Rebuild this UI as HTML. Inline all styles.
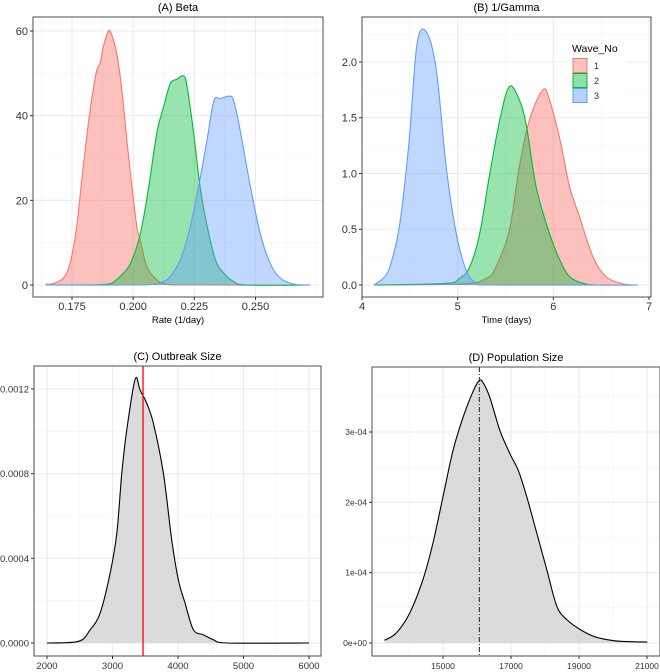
<!DOCTYPE html>
<html><head><meta charset="utf-8"><style>
html,body{margin:0;padding:0;background:#fff}
svg{display:block;font-family:"Liberation Sans",Arial,sans-serif}
</style></head><body>
<svg id="fig" width="660" height="672" viewBox="0 0 660 672"></svg>
<script>
// ---------- Data ----------
const waveLabels = ["1","2","3"];
const waveColors = ["#F8766D","#00BA38","#619CFF"];
// Panel A: Beta
const betaX1 = [0.1643,0.1671,0.1714,0.1742,0.1769,0.1796,0.1824,0.1850,0.1865,0.1878,0.1899,0.1913,0.1933,0.1954,0.1974,0.1995,0.2015,0.2029,0.2056,0.2097,0.2138,0.2200,0.2725];
const betaY1 = [0.2,0.3,1.6,5.1,13.8,28,41.3,50.4,52.4,56.3,60,59,54.6,46,34.3,23.2,13.8,10.6,4.3,1.2,0.2,0,0];
const betaX2 = [0.1643,0.1850,0.1906,0.1925,0.1947,0.1988,0.2029,0.2063,0.2097,0.2124,0.2152,0.2179,0.2206,0.2220,0.2247,0.2274,0.2302,0.2336,0.2370,0.2411,0.2466,0.2725];
const betaY2 = [0,0.05,0.3,0.9,2,5,12,23,36,42,47.6,48.6,49.4,47,36,23,14,6,2.8,0.8,0,0];
const betaX3 = [0.1643,0.2000,0.2070,0.2105,0.2130,0.2152,0.2193,0.2234,0.2275,0.2302,0.2330,0.2357,0.2391,0.2411,0.2439,0.2480,0.2520,0.2561,0.2602,0.2657,0.2725];
const betaY3 = [0,0,0.1,0.4,1.0,2,6,14,25.6,34.3,43.5,44,44.6,43.5,36,23,12,5,1.6,0.2,0];
// Panel B: 1/Gamma
const gamX1 = [4.125,5.06,5.30,5.40,5.54,5.645,5.75,5.89,5.96,6.07,6.17,6.275,6.415,6.55,6.73,6.885];
const gamY1 = [0,0.01,0.06,0.16,0.49,1.06,1.48,1.75,1.66,1.30,0.88,0.61,0.25,0.075,0.01,0];
const gamX2 = [4.125,4.88,5.02,5.125,5.23,5.33,5.44,5.54,5.645,5.72,5.82,5.96,6.07,6.17,6.31,6.45,6.885];
const gamY2 = [0,0.015,0.06,0.16,0.46,0.97,1.48,1.78,1.66,1.42,0.88,0.46,0.22,0.075,0.015,0,0];
const gamX3 = [4.125,4.22,4.29,4.39,4.49,4.575,4.672,4.777,4.88,4.986,5.09,5.195,5.30,6.885];
const gamY3 = [0,0.06,0.16,0.52,1.27,2.16,2.27,1.93,1.06,0.46,0.13,0.015,0,0];
// Panel C: Outbreak size
const outX = [2000,2482,2660,2812,2964,3066,3142,3218,3345,3421,3523,3624,3777,3904,4005,4107,4234,4386,4538,4741,6000];
const outY = [0,0.0000079,0.000063,0.000142,0.00033,0.000519,0.000802,0.001007,0.001246,0.001195,0.001132,0.001038,0.000802,0.000488,0.000299,0.000189,0.000063,0.000039,0.0000157,0,0];
const outMarker = [3466];
// Panel D: Population size
const popX = [13276,13621,14015,14409,14704,15000,15296,15591,15887,16064,16182,16379,16675,16970,17217,17463,17759,18054,18350,18645,19039,19433,19828,20222,21010];
const popY = [0.038e-4,0.14e-4,0.42e-4,0.9e-4,1.42e-4,2.08e-4,2.74e-4,3.21e-4,3.58e-4,3.73e-4,3.70e-4,3.49e-4,3.02e-4,2.69e-4,2.45e-4,2.08e-4,1.56e-4,1.04e-4,0.52e-4,0.33e-4,0.19e-4,0.094e-4,0.047e-4,0.024e-4,0.014e-4];
const popMarker = [16070];
// Ticks
const aXTicks = [0.175,0.200,0.225,0.250], aXLabels = ["0.175","0.200","0.225","0.250"];
const aYTicks = [0,20,40,60], aYLabels = ["0","20","40","60"];
const bXTicks = [4,5,6,7], bXLabels = ["4","5","6","7"];
const bYTicks = [0,0.5,1,1.5,2], bYLabels = ["0.0","0.5","1.0","1.5","2.0"];
const cXTicks = [2000,3000,4000,5000,6000], cXLabels = ["2000","3000","4000","5000","6000"];
const cYTicks = [0,0.0004,0.0008,0.0012], cYLabels = ["0.0000","0.0004","0.0008","0.0012"];
const dXTicks = [15000,17000,19000,21000], dXLabels = ["15000","17000","19000","21000"];
const dYTicks = [0,1e-4,2e-4,3e-4], dYLabels = ["0e+00","1e-04","2e-04","3e-04"];

// ---------- Helpers ----------
const NS = "http://www.w3.org/2000/svg";
const svg = document.getElementById("fig");
function mk(tag, attrs, parent){ const e=document.createElementNS(NS,tag); for(const k in attrs) e.setAttribute(k,attrs[k]); (parent||svg).appendChild(e); return e; }
function lin(d0,d1,r0,r1){ return v => r0 + (v-d0)/(d1-d0)*(r1-r0); }
function smoothPath(pts){
  let d = "M"+pts[0][0].toFixed(2)+","+pts[0][1].toFixed(2);
  for(let i=0;i<pts.length-1;i++){
    const p0=pts[Math.max(0,i-1)],p1=pts[i],p2=pts[i+1],p3=pts[Math.min(pts.length-1,i+2)];
    let c1=[p1[0]+(p2[0]-p0[0])/6, p1[1]+(p2[1]-p0[1])/6];
    let c2=[p2[0]-(p3[0]-p1[0])/6, p2[1]-(p3[1]-p1[1])/6];
    c1[0]=Math.min(c1[0],p2[0]); c2[0]=Math.max(c2[0],p1[0]);
    d += " C"+c1[0].toFixed(2)+","+c1[1].toFixed(2)+" "+c2[0].toFixed(2)+","+c2[1].toFixed(2)+" "+p2[0].toFixed(2)+","+p2[1].toFixed(2);
  }
  return d;
}
let clipN = 0;
function panel(o){
  const g = mk("g",{});
  
  
  const {L,R,T,B} = o.box;
  const cid = "clip"+(clipN++);
  const cp = mk("clipPath",{id:cid},g); mk("rect",{x:L,y:T,width:R-L,height:B-T},cp);
  const grid = mk("g",{"clip-path":"url(#"+cid+")"},g);
  
  
  o.xMinor.forEach(v=>{const x=o.sx(v); mk("line",{x1:x,x2:x,y1:T,y2:B,stroke:"#f2f2f2","stroke-width":0.6},grid);});
  o.yMinor.forEach(v=>{const y=o.sy(v); mk("line",{x1:L,x2:R,y1:y,y2:y,stroke:"#f2f2f2","stroke-width":0.6},grid);});
  o.xTicks.forEach(v=>{const x=o.sx(v); mk("line",{x1:x,x2:x,y1:T,y2:B,stroke:"#ebebeb","stroke-width":1.1},grid);});
  o.yTicks.forEach(v=>{const y=o.sy(v); mk("line",{x1:L,x2:R,y1:y,y2:y,stroke:"#ebebeb","stroke-width":1.1},grid);});
  const plot = mk("g",{"clip-path":"url(#"+cid+")"},g);
  o.series.forEach(s=>{
    const pts = s.x.map((v,i)=>[o.sx(v),o.sy(s.y[i])]);
    const base = o.sy(0);
    const line = smoothPath(pts);
    const area = line+" L"+pts[pts.length-1][0].toFixed(2)+","+base+" L"+pts[0][0].toFixed(2)+","+base+" Z";
    const a = mk("path",{d:area,fill:s.fill,"fill-opacity":s.alpha,stroke:"none"},plot);
    
    
    const l = mk("path",{d:line,fill:"none",stroke:s.stroke,"stroke-width":1.1},plot);
    
    
  });
  if(o.vline){
    o.vline.values.forEach(v=>{
      const x=o.sx(v);
      const vl = mk("line",{x1:x,x2:x,y1:T,y2:B,stroke:o.vline.color,"stroke-width":o.vline.w,"stroke-dasharray":o.vline.dash||"none"},plot);
      
      
    });
  }
  const border = mk("rect",{x:L,y:T,width:R-L,height:B-T,fill:"none",stroke:"#4d4d4d","stroke-width":1},g);
  
  
  o.xTicks.forEach((v,i)=>{const x=o.sx(v);
    mk("line",{x1:x,x2:x,y1:B,y2:B+3,stroke:"#333","stroke-width":1},g);
    const t=mk("text",{x:x,y:B+13,"text-anchor":"middle","font-size":o.fs,fill:"#333"},g); t.textContent=o.xLabels[i];
    
    
  });
  o.yTicks.forEach((v,i)=>{const y=o.sy(v);
    mk("line",{x1:L-3,x2:L,y1:y,y2:y,stroke:"#333","stroke-width":1},g);
    const t=mk("text",{x:L-5,y:y+o.fs*0.36,"text-anchor":"end","font-size":o.fs,fill:"#333"},g); t.textContent=o.yLabels[i];
    
    
  });
  const tt=mk("text",{x:(L+R)/2,y:T-6,"text-anchor":"middle","font-size":11,fill:"#000"},g); tt.textContent=o.title;
  
  
  if(o.xTitle){
    const xt=mk("text",{x:(L+R)/2,y:B+26,"text-anchor":"middle","font-size":9.5,fill:"#000"},g); xt.textContent=o.xTitle;
    
    
  }
  return g;
}

panel({name:"panel-a-beta",title:"(A) Beta",xTitle:"Rate (1/day)",box:{L:33,R:323,T:17,B:297},
  sx:lin(0.175,0.25,72,255.5), sy:lin(0,60,285,31), fs:11,
  xTicks:aXTicks,xLabels:aXLabels,yTicks:aYTicks,yLabels:aYLabels,
  xMinor:[0.1625,0.1875,0.2125,0.2375,0.2625,0.275], yMinor:[10,30,50],
  series:[
    {name:"beta-wave-1",x:betaX1,y:betaY1,fill:waveColors[0],stroke:waveColors[0],alpha:0.45},
    {name:"beta-wave-2",x:betaX2,y:betaY2,fill:waveColors[1],stroke:waveColors[1],alpha:0.4},
    {name:"beta-wave-3",x:betaX3,y:betaY3,fill:waveColors[2],stroke:waveColors[2],alpha:0.4}]});
panel({name:"panel-b-gamma",title:"(B) 1/Gamma",xTitle:"Time (days)",box:{L:362,R:651,T:17,B:297},
  sx:lin(4,7,362,649), sy:lin(0,2,285,62), fs:11,
  xTicks:bXTicks,xLabels:bXLabels,yTicks:bYTicks,yLabels:bYLabels,
  xMinor:[4.5,5.5,6.5], yMinor:[0.25,0.75,1.25,1.75,2.25],
  series:[
    {name:"gamma-wave-1",x:gamX1,y:gamY1,fill:waveColors[0],stroke:waveColors[0],alpha:0.45},
    {name:"gamma-wave-2",x:gamX2,y:gamY2,fill:waveColors[1],stroke:waveColors[1],alpha:0.4},
    {name:"gamma-wave-3",x:gamX3,y:gamY3,fill:waveColors[2],stroke:waveColors[2],alpha:0.4}]});
const leg = mk("g",{});


mk("rect",{x:568,y:38,width:58,height:66,fill:"#fff"},leg);
const lt = mk("text",{x:572,y:52,"font-size":10.5,fill:"#000"},leg); lt.textContent="Wave_No";


waveLabels.forEach((lab,i)=>{
  const y = 58+i*15;
  const r = mk("rect",{x:573,y:y+0.5,width:14,height:14,fill:waveColors[i],"fill-opacity":0.45,stroke:waveColors[i],"stroke-width":1},leg);
  
  
  const t = mk("text",{x:594,y:y+11,"font-size":9,fill:"#333"},leg); t.textContent=lab;
  
  
});
panel({name:"panel-c-outbreak",title:"(C) Outbreak Size",box:{L:34,R:321,T:366,B:656},
  sx:lin(2000,6000,47,309), sy:lin(0,0.0012,643,389), fs:9.5,
  xTicks:cXTicks,xLabels:cXLabels,yTicks:cYTicks,yLabels:cYLabels,
  xMinor:[2500,3500,4500,5500], yMinor:[0.0002,0.0006,0.001],
  series:[{name:"outbreak-density",x:outX,y:outY,fill:"#d9d9d9",stroke:"#000",alpha:0.95}],
  vline:{name:"observed-outbreak-line",values:outMarker,color:"#ff0000",w:1.3}});
panel({name:"panel-d-population",title:"(D) Population Size",box:{L:372,R:660,T:367,B:656},
  sx:lin(15000,21000,443,647), sy:lin(0,3e-4,643,432), fs:8.5,
  xTicks:dXTicks,xLabels:dXLabels,yTicks:dYTicks,yLabels:dYLabels,
  xMinor:[13000,14000,16000,18000,20000], yMinor:[0.5e-4,1.5e-4,2.5e-4,3.5e-4],
  series:[{name:"population-density",x:popX,y:popY,fill:"#d9d9d9",stroke:"#000",alpha:0.95}],
  vline:{name:"population-mode-line",values:popMarker,color:"#333",w:1.1,dash:"5,2,1,2"}});
</script>
</body></html>
